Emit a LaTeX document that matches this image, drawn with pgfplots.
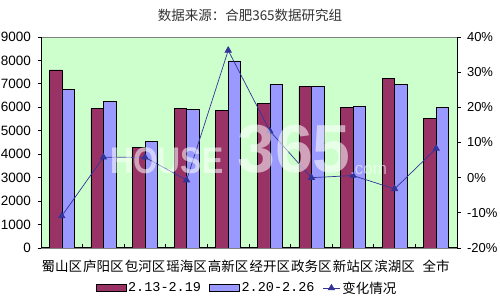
\documentclass[border=0pt]{standalone}
\usepackage{fontspec}
\setmainfont{Liberation Sans}
\newfontfamily\cjk{Noto Sans CJK SC}
\newfontfamily\monof{Liberation Mono}
\usepackage{pgfplots}
\usepackage{pgfplotstable}
\pgfplotsset{compat=1.18}

\definecolor{barA}{RGB}{153,51,102}
\definecolor{barB}{RGB}{153,153,255}
\definecolor{plotbg}{RGB}{204,255,204}
\definecolor{chg}{RGB}{51,51,153}

% weekly average prices per district (yuan / m^2)
\pgfplotstableread{
x a b
0 7600 6770
1 5960 6270
2 4280 4530
3 5960 5920
4 5860 7980
5 6170 6990
6 6910 6910
7 5990 6030
8 7220 6990
9 5530 5990
}\pricedata

% week-on-week change (%)
\pgfplotstableread{
x c
0 -10.9
1 5.8
2 5.8
3 -0.7
4 36.2
5 13.3
6 0.0
7 0.6
8 -3.2
9 8.3
}\changedata

\pgfplotsset{
  chartbase/.style={
    at={(41pt,54pt)}, anchor=south west,
    width=416pt, height=211pt, scale only axis,
    xmin=-0.5, xmax=9.5,
    tick label style={font=\fontsize{13.5pt}{15pt}\selectfont},
    /pgf/number format/assume math mode=true,
    axis line style={black, line width=1pt},
    tick style={black, line width=0.8pt},
    major tick length=3.5pt,
    minor tick length=3.5pt,
  },
  barswatch/.style={legend image code/.code={\draw[##1] (0pt,-3.5pt) rectangle (30pt,3.5pt);}},
}

\begin{document}
\begin{tikzpicture}
\path[use as bounding box] (0,0) rectangle (500pt,302pt);
\node[font=\cjk\fontsize{13.5pt}{15pt}\selectfont, text=black!80] at (250pt,287pt) {数据来源：合肥365数据研究组};

\begin{axis}[chartbase,
  axis background/.style={fill=plotbg, draw=gray},
  ymin=0, ymax=9000, ytick={0,1000,...,9000},
  scaled y ticks=false,
  yticklabel style={/pgf/number format/1000 sep={}, xshift=-3pt},
  axis x line*=bottom, axis y line*=left,
  tick align=outside,
  xtick={0,...,9},
  xticklabels={蜀山区,庐阳区,包河区,瑶海区,高新区,经开区,政务区,新站区,滨湖区,全市},
  xticklabel style={font=\cjk\fontsize{13.5pt}{15pt}\selectfont, yshift=-5pt},
  major x tick style={draw=none},
  minor xtick={-0.5,0.5,...,9.5},
  minor x tick style={yshift=3.5pt},
  ybar=0pt, bar width=12.5pt,
]
\addplot[fill=barA, draw=black, line width=0.6pt] table[x=x,y=a]{\pricedata};
\addplot[fill=barB, draw=black, line width=0.6pt] table[x=x,y=b]{\pricedata};
\end{axis}

\begin{axis}[chartbase,
  ymin=-20, ymax=40, ytick={-20,-10,...,40},
  axis y line*=right, axis x line=none,
  tick align=outside,
  yticklabel={\pgfmathprintnumber{\tick}\%},
  yticklabel style={font=\fontsize{13pt}{15pt}\selectfont, xshift=3pt},
  legend style={at={(0.495,-0.19)}, anchor=center, legend columns=3,
    draw=none, fill=none, font=\fontsize{13.5pt}{15pt}\selectfont,
    /tikz/every even column/.append style={column sep=6pt}},
  legend cell align=left,
]
\addlegendimage{barswatch, fill=barA, draw=black, line width=0.6pt}
\addlegendentry{\monof 2.13-2.19}
\addlegendimage{barswatch, fill=barB, draw=black, line width=0.6pt}
\addlegendentry{\monof 2.20-2.26}
\addplot[chg, line width=0.7pt, mark=triangle*, mark size=3.6pt, mark options={fill=chg}] table[x=x,y=c]{\changedata};
\addlegendentry{\cjk 变化情况}
\end{axis}

% site watermark
\begin{scope}[opacity=0.55]
\node[anchor=base west, inner sep=0, text=white, font=\bfseries\fontsize{37pt}{40pt}\selectfont, xscale=0.86] at (110pt,128pt) {HOUSE};
\node[anchor=base west, inner sep=0, text=white, font=\bfseries\fontsize{68pt}{70pt}\selectfont] at (237pt,129pt) {365};
\node[anchor=base west, inner sep=0, text=white, font=\fontsize{17pt}{19pt}\selectfont] at (350pt,127pt) {.com};
\end{scope}
\end{tikzpicture}
\end{document}
